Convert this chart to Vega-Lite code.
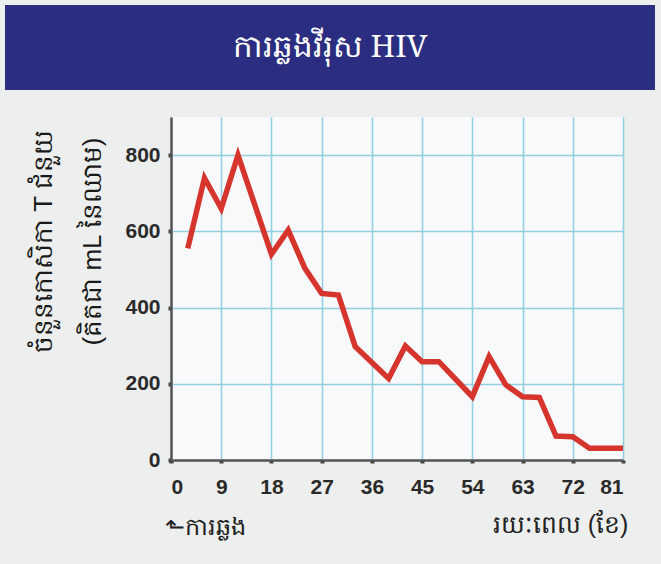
{
  "$schema": "https://vega.github.io/schema/vega-lite/v6.json",
  "background": "#EDEFEE",
  "padding": {"left": 5, "top": 5, "right": 6, "bottom": 30},
  "bounds": "flush",
  "spacing": 27,
  "config": {
    "font": "Liberation Sans",
    "view": {"stroke": null}
  },
  "vconcat": [
    {
      "width": 650,
      "height": 85,
      "view": {"fill": "#2B2E80", "stroke": null},
      "data": {"values": [{"t": "ការឆ្លងវីរុស HIV"}]},
      "mark": {"type": "text", "color": "#FFFFFF", "fontSize": 31, "font": "Noto Serif", "baseline": "middle", "align": "center"},
      "encoding": {"text": {"field": "t"}}
    },
    {
      "bounds": "flush",
      "spacing": 0,
      "hconcat": [
        {
          "width": 166,
          "height": 343,
          "view": {"stroke": null},
          "data": {"values": [{"t": ""}]},
          "mark": {"type": "text"},
          "encoding": {"text": {"field": "t"}}
        },
        {
          "width": 452,
          "height": 343,
          "view": {"fill": "#F8F9FB", "stroke": null},
          "data": {"values": [
            {"month": 3, "cells": 555},
            {"month": 6, "cells": 740},
            {"month": 9, "cells": 660},
            {"month": 12, "cells": 800},
            {"month": 18, "cells": 540},
            {"month": 21, "cells": 603},
            {"month": 24, "cells": 503},
            {"month": 27, "cells": 437},
            {"month": 30, "cells": 433},
            {"month": 33, "cells": 298},
            {"month": 39, "cells": 214},
            {"month": 42, "cells": 299},
            {"month": 45, "cells": 258},
            {"month": 48, "cells": 258},
            {"month": 54, "cells": 166},
            {"month": 57, "cells": 271},
            {"month": 60, "cells": 197},
            {"month": 63, "cells": 166},
            {"month": 66, "cells": 164},
            {"month": 69, "cells": 63},
            {"month": 72, "cells": 61},
            {"month": 75, "cells": 31},
            {"month": 81, "cells": 31}
          ]},
          "layer": [
            {
              "mark": {"type": "line", "color": "#D6352E", "strokeWidth": 5.5, "strokeJoin": "miter"},
              "encoding": {
                "x": {
                  "field": "month", "type": "quantitative",
                  "scale": {"domain": [0, 81], "nice": false, "zero": false},
                  "axis": {
                    "values": [0, 9, 18, 27, 36, 45, 54, 63, 72, 81],
                    "grid": true, "gridColor": "#92CFE2", "gridWidth": 1.6, "gridOpacity": 1,
                    "domainColor": "#555555", "domainWidth": 2.5,
                    "tickColor": "#444444", "tickSize": 3, "tickWidth": 4,
                    "labelFont": "Liberation Sans", "labelFontWeight": "bold", "labelFontSize": 21, "labelColor": "#2A2A2A",
                    "labelPadding": 13,
                    "title": "រយៈពេល (ខែ)",
                    "titleFontSize": 25, "titleFontWeight": "normal", "titleColor": "#222222",
                    "titleX": 389, "titleY": 64, "titleAlign": "center", "titleBaseline": "middle"
                  }
                },
                "y": {
                  "field": "cells", "type": "quantitative",
                  "scale": {"domain": [0, 900], "nice": false},
                  "axis": {
                    "values": [0, 100, 200, 300, 400, 500, 600, 700, 800, 900],
                    "labelExpr": "datum.value % 200 == 0 && datum.value < 900 ? datum.label : ''",
                    "grid": true, "gridColor": "#92CFE2", "gridWidth": 1.6, "gridOpacity": 1,
                    "domainColor": "#555555", "domainWidth": 2.5,
                    "tickColor": "#444444", "tickSize": 3, "tickWidth": 4,
                    "labelFont": "Liberation Sans", "labelFontWeight": "bold", "labelFontSize": 21, "labelColor": "#2A2A2A",
                    "labelPadding": 8,
                    "title": ["ចំនួនកោសិកា T ជំនួយ", "(គិតជា mL នៃឈាម)"],
                    "titleFontSize": 26, "titleFontWeight": "normal", "titleColor": "#1A1A1A",
                    "titleLineHeight": 49,
                    "titleAngle": -90,
                    "titleX": -141, "titleY": 124, "titleAlign": "center", "titleBaseline": "top"
                  }
                }
              }
            },
            {
              "data": {"values": [{"month": 0, "cells": 0, "t": "⬑ការឆ្លង"}]},
              "mark": {"type": "text", "align": "left", "baseline": "middle", "fontSize": 24, "color": "#222222", "dx": -6, "dy": 68},
              "encoding": {
                "x": {"field": "month", "type": "quantitative"},
                "y": {"field": "cells", "type": "quantitative"},
                "text": {"field": "t"}
              }
            }
          ]
        }
      ]
    }
  ]
}
